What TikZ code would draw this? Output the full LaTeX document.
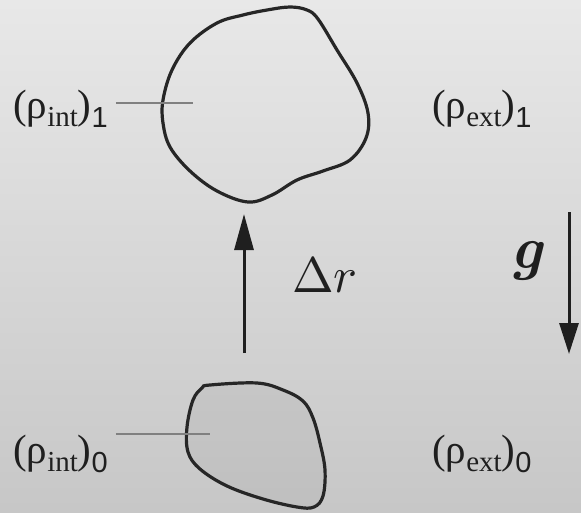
\documentclass[tikz,border=0pt]{standalone}
\usepackage{fontspec}
\newfontfamily\tms{Liberation Serif}
\newfontfamily\hlv{Liberation Sans}
\usetikzlibrary{arrows.meta}
\newcommand{\sbx}[1]{\raisebox{-8pt}{\fontsize{29}{31}\selectfont #1}}
\newcommand{\sbd}[1]{\raisebox{-9pt}{\hlv\fontsize{29}{31}\selectfont #1}}
\begin{document}
\begin{tikzpicture}[x=1pt,y=-1pt,
  lab/.style={font=\tms\fontsize{41}{43}\selectfont, inner sep=0pt, anchor=base west, text=black!88},
  blob/.style={line width=3.2pt, draw=black!85},
  leader/.style={line width=1.8pt, draw=black!50},
  bigarrow/.style={line width=3pt, draw=black!88, -{Triangle[length=36pt,width=19pt]}},
  garrow/.style={line width=3pt, draw=black!88, -{Triangle[length=31pt,width=19pt]}}]
\shade[top color=black!9, bottom color=black!22] (0,0) rectangle (581,512);
\useasboundingbox (0,0) rectangle (581,512);

% top blob
\draw[blob] plot[smooth cycle, tension=0.6] coordinates {
 (163,100) (172,70) (190,43) (217,23) (243,15) (267,10) (290,7) (307,10) (318,19)
 (337,50) (357,83) (368,113) (366,138) (350,160) (323,171) (297,180)
 (272,195) (248,202) (217,191) (190,171) (170,147) (163,123)};
% bottom blob
\draw[blob, fill=black, fill opacity=0.04] plot[smooth cycle, tension=0.6] coordinates {
 (210,385) (257,383) (283,390) (303,401) (313,418) (320,443) (325,470) (323,496)
 (314,507) (297,507) (263,499) (227,486) (200,469) (188,452) (187,427) (193,400) (202,388)};

% labels
\node[lab] (pint1) at (13,118) {(ρ\sbx{int})\sbd{1}};
\node[lab] (pext1) at (432,118) {(ρ\sbx{ext})\sbd{1}};
\node[lab] (pint0) at (13,463) {(ρ\sbx{int})\sbd{0}};
\node[lab] (pext0) at (432,463) {(ρ\sbx{ext})\sbd{0}};

\coordinate (l1) at (193,103);
\coordinate (l0) at (210,434);
\draw[leader] ([xshift=8pt]pint1.east |- l1) -- (l1);
\draw[leader] ([xshift=8pt]pint0.east |- l0) -- (l0);

% arrows
\coordinate (drA) at (244,353);
\coordinate (drB) at (244,214);
\draw[bigarrow] (drA) -- (drB);
\node[font=\fontsize{10}{12}\selectfont, scale=5.0, inner sep=0pt, anchor=base west, text=black!88] (dr) at (291,292) {$\Delta r$};

\coordinate (gA) at (569,212);
\coordinate (gB) at (569,354);
\draw[garrow] (gA) -- (gB);
\node[font=\rmfamily\fontsize{60}{62}\selectfont\bfseries\itshape, inner sep=0pt, anchor=base west, text=black!88] (g) at (510,268) {g};
\end{tikzpicture}
\end{document}
